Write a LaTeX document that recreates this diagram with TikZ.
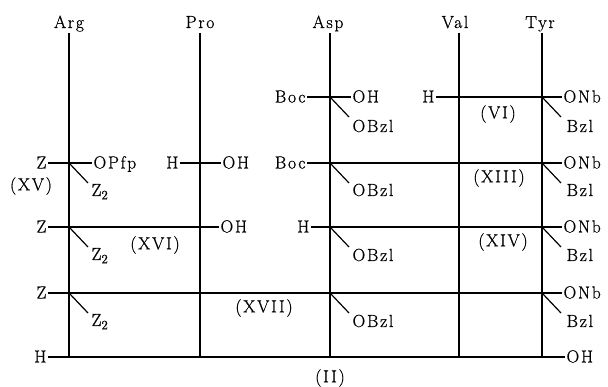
\documentclass[tikz,border=0pt]{standalone}
\usepackage{fontspec}
\setmainfont{Latin Modern Roman}[LetterSpace=10,FakeBold=0.8]
\newcommand{\subtwo}{\raisebox{-0.45ex}{\fontsize{13}{14}\selectfont 2}}
\begin{document}
\begin{tikzpicture}[x=1pt,y=-1pt,line width=1.2pt,
  lbl/.style={inner sep=1pt,font=\fontsize{17.5}{20}\selectfont},
  lw/.style={lbl,anchor=base west},
  le/.style={lbl,anchor=base east},
  lc/.style={lbl,anchor=center}]
\useasboundingbox (0,0) rectangle (608,387);
% column headers
\node[lbl,anchor=base] (hArg) at (69,28) {Arg};
\node[lbl,anchor=base] (hPro) at (200,28) {Pro};
\node[lbl,anchor=base] (hAsp) at (328,28) {Asp};
\node[lbl,anchor=base] (hVal) at (455,28) {Val};
\node[lbl,anchor=base] (hTyr) at (540,28) {Tyr};
% column lines
\foreach \n/\x in {Arg/69,Pro/200,Asp/330,Val/459,Tyr/542}{
  \coordinate (t\n) at (\x,33);
  \coordinate (b\n) at (\x,357);
  \draw (t\n) -- (b\n);
}
% intersection points
\coordinate (Asp1) at (330,97);
\coordinate (Val1) at (459,97);
\coordinate (Tyr1) at (542,97);
\coordinate (Arg2) at (69,163);
\coordinate (Pro2) at (200,163);
\coordinate (Asp2) at (330,163);
\coordinate (Tyr2) at (542,163);
\coordinate (Arg3) at (69,227);
\coordinate (Pro3) at (200,227);
\coordinate (Asp3) at (330,227);
\coordinate (Tyr3) at (542,227);
\coordinate (Arg4) at (69,293);
\coordinate (Tyr4) at (542,293);
\coordinate (Arg5) at (69,357);
\coordinate (Tyr5) at (542,357);

% ---- row 1
\node[le] (boc1) at (307,102.5) {Boc};
\node[lw] (oh1) at (351,102.5) {OH};
\draw (boc1.east |- Asp1) -- (Asp1) -- (oh1.west |- Asp1);
\draw (Asp1) -- ++(19,20) coordinate (d1);
\node[lw] (obzl1) at (351,132) {OBzl};
\node[le] (h1) at (436,102.5) {H};
\node[lw] (onb1) at (562,102.5) {ONb};
\draw (h1.east |- Val1) -- (Val1) -- (Tyr1) -- (onb1.west |- Tyr1);
\draw (Tyr1) -- ++(19,20) coordinate (d2);
\node[lw] (bzl1) at (565,132) {Bzl};
\node[lc] (VI) at (498,114) {(VI)};

% ---- row 2
\node[le] (z2) at (48,168.5) {Z};
\node[lw] (opfp) at (92,168.5) {OPfp};
\draw (z2.east |- Arg2) -- (Arg2) -- (opfp.west |- Arg2);
\draw (Arg2) -- ++(19,20) coordinate (d3);
\node[lw] (zz2) at (90,196) {Z\subtwo};
\node[lc] (XV) at (31,186) {(XV)};
\node[le] (h2) at (180,168.5) {H};
\node[lw] (oh2) at (221,168.5) {OH};
\draw (h2.east |- Pro2) -- (Pro2) -- (oh2.west |- Pro2);
\node[le] (boc2) at (307,168.5) {Boc};
\node[lw] (onb2) at (562,168.5) {ONb};
\draw (boc2.east |- Asp2) -- (Asp2) -- (Tyr2) -- (onb2.west |- Tyr2);
\draw (Asp2) -- ++(19,20) coordinate (d4);
\node[lw] (obzl2) at (351,196) {OBzl};
\draw (Tyr2) -- ++(19,20) coordinate (d5);
\node[lw] (bzl2) at (565,196) {Bzl};
\node[lc] (XIII) at (499,178) {(XIII)};

% ---- row 3
\node[le] (z3) at (48,232.5) {Z};
\node[lw] (oh3) at (219,232.5) {OH};
\draw (z3.east |- Arg3) -- (Arg3) -- (Pro3) -- (oh3.west |- Pro3);
\draw (Arg3) -- ++(19,20) coordinate (d6);
\node[lw] (zz3) at (90,260) {Z\subtwo};
\node[lc] (XVI) at (155,245) {(XVI)};
\node[le] (h3) at (311,232.5) {H};
\node[lw] (onb3) at (562,232.5) {ONb};
\draw (h3.east |- Asp3) -- (Asp3) -- (Tyr3) -- (onb3.west |- Tyr3);
\draw (Asp3) -- ++(19,20) coordinate (d7);
\node[lw] (obzl3) at (351,261) {OBzl};
\draw (Tyr3) -- ++(19,20) coordinate (d8);
\node[lw] (bzl3) at (565,261) {Bzl};
\node[lc] (XIV) at (503,242) {(XIV)};

% ---- row 4
\coordinate (Asp4) at (330,293);
\node[le] (z4) at (48,298.5) {Z};
\node[lw] (onb4) at (562,298.5) {ONb};
\draw (z4.east |- Arg4) -- (Arg4) -- (Tyr4) -- (onb4.west |- Tyr4);
\draw (Arg4) -- ++(19,20) coordinate (d9);
\node[lw] (zz4) at (90,326) {Z\subtwo};
\draw (Asp4) -- ++(19,20) coordinate (d10);
\node[lw] (obzl4) at (351,327) {OBzl};
\draw (Tyr4) -- ++(19,20) coordinate (d11);
\node[lw] (bzl4) at (565,327) {Bzl};
\node[lc] (XVII) at (264,308) {(XVII)};

% ---- row 5
\node[le] (h5) at (48,362.5) {H};
\node[lw] (oh5) at (565,362.5) {OH};
\draw (h5.east |- Arg5) -- (Arg5) -- (Tyr5) -- (oh5.west |- Tyr5);
\node[lc] (II) at (330,378) {(II)};
\end{tikzpicture}
\end{document}
